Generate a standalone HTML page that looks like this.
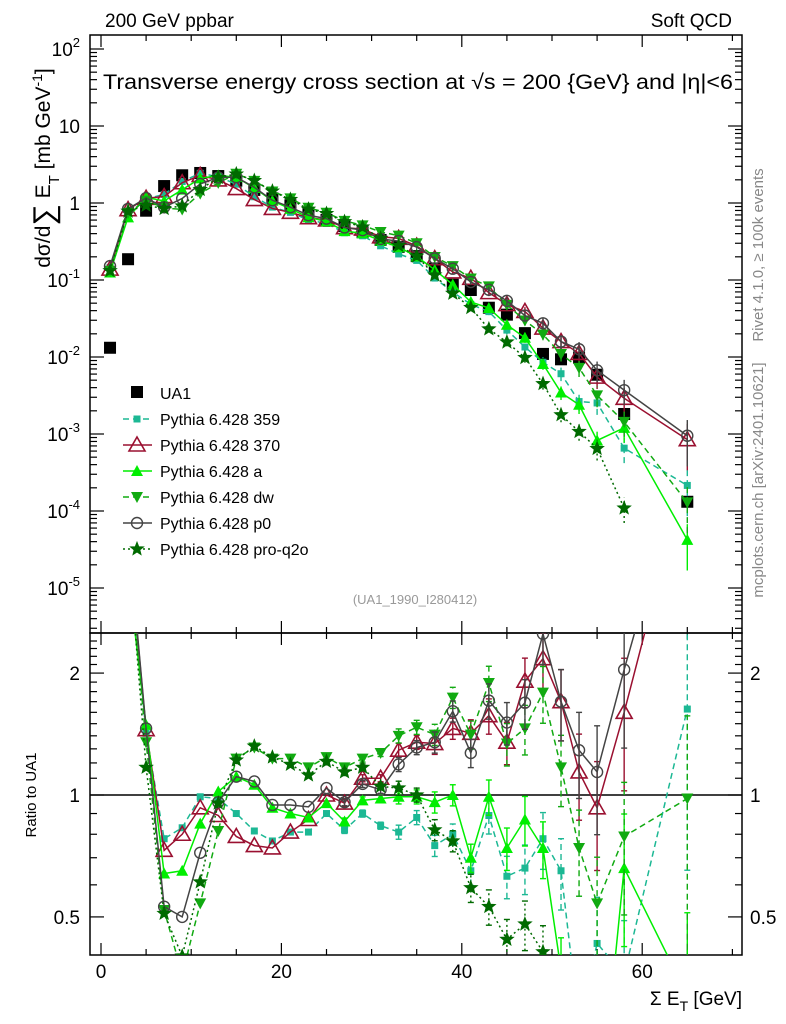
<!DOCTYPE html>
<html><head><meta charset="utf-8"><style>
html,body{margin:0;padding:0;background:#fff;overflow:hidden;width:786px;height:1024px;}
svg{display:block;font-family:"Liberation Sans",Arial,sans-serif;}
</style></head><body>
<svg id="chart" width="786" height="1024" viewBox="0 0 786 1024">
<defs>
<clipPath id="cm"><rect x="90" y="35" width="652" height="598"/></clipPath>
<clipPath id="cr"><rect x="90" y="633" width="652" height="322"/></clipPath>
</defs>
<text x="105" y="27" font-size="19">200 GeV ppbar</text>
<text x="732" y="27" font-size="19" text-anchor="end">Soft QCD</text>
<text x="103" y="89" font-size="21" textLength="630" lengthAdjust="spacingAndGlyphs">Transverse energy cross section at √s = 200 {GeV} and |η|&lt;6</text>
<text x="415" y="604" font-size="13" fill="#999" text-anchor="middle">(UA1_1990_I280412)</text>
<text transform="translate(763,255) rotate(-90)" font-size="15" fill="#888" text-anchor="middle">Rivet 4.1.0, ≥ 100k events</text>
<text transform="translate(763,480) rotate(-90)" font-size="15" fill="#888" text-anchor="middle">mcplots.cern.ch [arXiv:2401.10621]</text>
<text transform="translate(50,168) rotate(-90)" font-size="21" text-anchor="middle">dσ/d<tspan font-size="30" dy="4">∑</tspan><tspan dy="-4"> E</tspan><tspan font-size="15" dy="9">T</tspan><tspan dy="-9"> [mb GeV</tspan><tspan font-size="14" dy="-8">-1</tspan><tspan dy="8">]</tspan></text>
<text transform="translate(36,795) rotate(-90)" font-size="15" text-anchor="middle">Ratio to UA1</text>
<text x="742" y="1005" font-size="19" text-anchor="end">Σ E<tspan font-size="14" dy="6">T</tspan><tspan dy="-6"> [GeV]</tspan></text>
<g id="axes"></g>
<g id="main" clip-path="url(#cm)"></g>
<g id="ratio" clip-path="url(#cr)"></g>
<g id="legend"></g>
</svg>
<script>
const xs=[1,3,5,7,9,11,13,15,17,19,21,23,25,27,29,31,33,35,37,39,41,43,45,47,49,51,53,55,58,65];
const ua1Log=[-1.88,-0.73,-0.10,0.22,0.36,0.39,0.35,0.29,0.17,0.06,-0.03,-0.13,-0.22,-0.30,-0.38,-0.48,-0.57,-0.69,-0.85,-1.06,-1.13,-1.36,-1.45,-1.69,-1.96,-2.03,-2.01,-2.23,-2.74,-3.88];
const r359=[11,4.2,1.42,0.78,0.83,0.99,0.98,0.90,0.815,0.77,0.81,0.81,0.90,0.82,0.90,0.84,0.81,0.88,0.75,0.80,0.65,0.89,0.63,0.66,0.78,0.65,0.27,0.43,0.36,1.63];
const r370=[10.5,4.4,1.45,0.73,0.80,0.93,0.89,0.79,0.75,0.74,0.81,0.87,1.0,0.955,1.10,1.10,1.29,1.35,1.34,1.46,1.42,1.57,1.35,1.91,2.17,1.70,1.14,0.93,1.60,6.4];
const rA=[9.5,3.5,1.49,0.64,0.65,0.85,1.02,1.11,1.06,0.93,0.90,0.88,0.955,0.86,0.97,0.98,0.99,0.99,0.96,1.0,0.70,0.99,0.74,0.87,0.74,0.37,0.245,0.14,0.66,0.32];
const rDw=[10,4.0,1.35,0.52,0.36,0.54,0.815,1.23,1.31,1.23,1.23,1.17,1.24,1.17,1.23,1.27,1.40,1.47,1.41,1.74,1.41,1.89,1.34,1.46,1.79,1.17,0.74,0.54,0.79,0.98];
const rP0=[11.5,4.5,1.46,0.53,0.50,0.72,0.96,1.11,1.08,0.945,0.945,0.935,1.04,0.96,1.065,1.03,1.19,1.31,1.35,1.61,1.27,1.71,1.51,1.69,2.5,1.70,1.29,1.14,2.04,7.2];
const rQ2o=[10,4.2,1.17,0.51,0.40,0.61,0.955,1.22,1.32,1.24,1.19,1.12,1.21,1.14,1.17,1.05,1.04,1.0,0.82,0.77,0.59,0.53,0.44,0.48,0.41,0.19,0.11,0.11,0.06,null];
const relErr=[0,0,0,0,0,0,0,0,0,0,0,0,0,0.01,0.01,0.01,0.02,0.02,0.03,0.03,0.04,0.05,0.06,0.07,0.08,0.1,0.12,0.15,0.18,0.3];
const xTicks=[0,20,40,60];
const yTicksMain=[2,1,0,-1,-2,-3,-4,-5];
const rTicks=[2,1,0.5];

const NS="http://www.w3.org/2000/svg";
const X=v=>101+9.02*v;
const YM=l=>203-77*l;
const YR=r=>795-405*Math.log10(r);
function mk(tag,attrs,parent){const e=document.createElementNS(NS,tag);for(const k in attrs)e.setAttribute(k,attrs[k]);parent.appendChild(e);return e;}
const axes=document.getElementById('axes'),main=document.getElementById('main'),ratio=document.getElementById('ratio'),legend=document.getElementById('legend');

let f1=mk('rect',{x:90,y:35,width:652,height:598,fill:'none',stroke:'#000','stroke-width':1.5},axes);


let f2=mk('rect',{x:90,y:633,width:652,height:322,fill:'none',stroke:'#000','stroke-width':1.5},axes);


for(let v=0;v<=70;v+=5){const major=v%20===0;const h=major?12:6;
 for(const [yb,dir] of [[955,-1],[633,1],[633,-1],[35,1]]){mk('line',{x1:X(v),x2:X(v),y1:yb,y2:yb+dir*h,stroke:'#000','stroke-width':1.2},axes);}}
xTicks.forEach(v=>{const t=mk('text',{x:X(v),y:978,'font-size':19,'text-anchor':'middle'},axes);t.textContent=v;
 
 });
for(let d=-6;d<=2;d++){for(let m=1;m<10;m++){const l=d+Math.log10(m);const y=YM(l);if(y<35||y>633)continue;const h=m===1?14:7;
 mk('line',{x1:90,x2:90+h,y1:y,y2:y,stroke:'#000','stroke-width':1.2},axes);mk('line',{x1:742,x2:742-h,y1:y,y2:y,stroke:'#000','stroke-width':1.2},axes);}}
yTicksMain.forEach(d=>{const t=mk('text',{x:80,y:YM(d)+7,'font-size':19,'text-anchor':'end'},axes);
 if(d===0)t.textContent='1';else if(d===1)t.textContent='10';else{t.textContent='10';const s=mk('tspan',{dy:-9,'font-size':13},t);s.textContent=d;}
 
 });
for(let r=0.4;r<=2.5;r+=0.1){const y=YR(r);if(y<633||y>955)continue;const mj=[0.5,1,2].some(q=>Math.abs(q-r)<1e-6);const h=mj?14:7;
 mk('line',{x1:90,x2:90+h,y1:y,y2:y,stroke:'#000','stroke-width':1.2},axes);mk('line',{x1:742,x2:742-h,y1:y,y2:y,stroke:'#000','stroke-width':1.2},axes);}
rTicks.forEach(r=>{for(const [x,a] of [[80,'end'],[750,'start']]){const t=mk('text',{x:x,y:YR(r)+7,'font-size':19,'text-anchor':a},axes);t.textContent=r;
 
 }});
let one=mk('line',{x1:90,x2:742,y1:YR(1),y2:YR(1),stroke:'#000','stroke-width':1.5},axes);



function marker(g,type,x,y,c){
 if(type==='bigsq')mk('rect',{x:x-6,y:y-6,width:12,height:12,fill:c},g);
 else if(type==='sq')mk('rect',{x:x-3.5,y:y-3.5,width:7,height:7,fill:c},g);
 else if(type==='otri')mk('path',{d:`M${x},${y-8}L${x+8},${y+6}L${x-8},${y+6}Z`,fill:'none',stroke:c,'stroke-width':1.6},g);
 else if(type==='tri')mk('path',{d:`M${x},${y-6}L${x+6},${y+5}L${x-6},${y+5}Z`,fill:c},g);
 else if(type==='itri')mk('path',{d:`M${x},${y+6}L${x+6},${y-5}L${x-6},${y-5}Z`,fill:c},g);
 else if(type==='circ')mk('circle',{cx:x,cy:y,r:5.5,fill:'none',stroke:c,'stroke-width':1.4},g);
 else if(type==='star'){let p='';for(let i=0;i<10;i++){const rr=i%2?3:7;const a=-Math.PI/2+i*Math.PI/5;p+=(i?'L':'M')+(x+rr*Math.cos(a)).toFixed(1)+','+(y+rr*Math.sin(a)).toFixed(1);}mk('path',{d:p+'Z',fill:c,stroke:c,'stroke-width':0.8},g);}
}
const series=[
 {name:'Pythia 6.428 359',r:r359,c:'#1cb894',m:'sq',dash:'6,4',id:'359'},
 {name:'Pythia 6.428 370',r:r370,c:'#9a1030',m:'otri',dash:'',id:'370'},
 {name:'Pythia 6.428 a',r:rA,c:'#00ee00',m:'tri',dash:'',id:'a'},
 {name:'Pythia 6.428 dw',r:rDw,c:'#11aa11',m:'itri',dash:'6,4',id:'dw'},
 {name:'Pythia 6.428 p0',r:rP0,c:'#444444',m:'circ',dash:'',id:'p0'},
 {name:'Pythia 6.428 pro-q2o',r:rQ2o,c:'#006a00',m:'star',dash:'2,3',id:'pro-q2o'}];

const gd=mk('g',{},main);


xs.forEach((x,i)=>marker(gd,'bigsq',X(x),YM(ua1Log[i]),'#000'));

series.forEach(s=>{
 const gm=mk('g',{},main);
 
 
 const gr=mk('g',{},ratio);
 
 
 let pm=[],pr=[];
 xs.forEach((x,i)=>{const r=s.r[i];if(r==null)return;const l=ua1Log[i]+Math.log10(r);pm.push([X(x),YM(l),l]);pr.push([X(x),YR(r),r]);});
 mk('polyline',{points:pm.map(p=>p[0]+','+p[1]).join(' '),fill:'none',stroke:s.c,'stroke-width':1.5,'stroke-dasharray':s.dash},gm);
 mk('polyline',{points:pr.map(p=>p[0]+','+p[1]).join(' '),fill:'none',stroke:s.c,'stroke-width':1.5,'stroke-dasharray':s.dash},gr);
 let k=0;
 xs.forEach((x,i)=>{const r=s.r[i];if(r==null)return;const e=relErr[i];
  if(e>0){const l=ua1Log[i]+Math.log10(r);const lo=Math.max(1e-6,1-e*2),hi=1+e*2;
   mk('line',{x1:X(x),x2:X(x),y1:YM(l+Math.log10(lo)),y2:YM(l+Math.log10(hi)),stroke:s.c,'stroke-width':1.4,'stroke-dasharray':s.dash},gm);
   mk('line',{x1:X(x),x2:X(x),y1:YR(r*lo),y2:YR(r*hi),stroke:s.c,'stroke-width':1.4,'stroke-dasharray':s.dash},gr);
   for(const q of [lo,hi]){mk('line',{x1:X(x)-3,x2:X(x)+3,y1:YR(r*q),y2:YR(r*q),stroke:s.c,'stroke-width':1.4},gr);}}
  marker(gm,s.m,pm[k][0],pm[k][1],s.c);marker(gr,s.m,pr[k][0],pr[k][1],s.c);k++;});
});

const lg0=mk('g',{},legend);


marker(lg0,'bigsq',137,392,'#000');
let t0=mk('text',{x:160,y:399,'font-size':16},lg0);t0.textContent='UA1';
series.forEach((s,i)=>{const y=419+26*i;const g=mk('g',{},legend);
 
 
 mk('line',{x1:123,x2:152,y1:y,y2:y,stroke:s.c,'stroke-width':1.5,'stroke-dasharray':s.dash},g);
 marker(g,s.m,137,y,s.c);
 const t=mk('text',{x:160,y:y+6,'font-size':16},g);t.textContent=s.name;});
</script>
</body></html>
